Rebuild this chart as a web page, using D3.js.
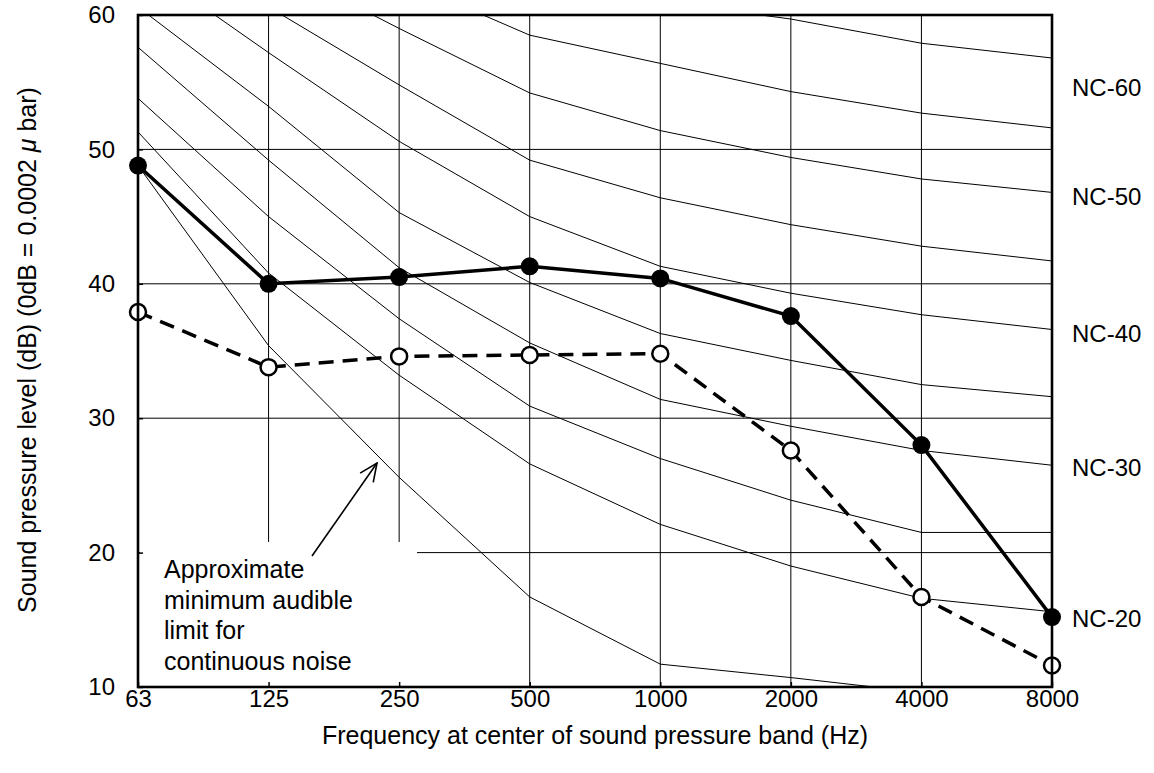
<!DOCTYPE html>
<html>
<head>
<meta charset="utf-8">
<script src="https://cdn.jsdelivr.net/npm/d3@7"></script>
<style>
body { margin: 0; background: #fff; }
svg { font-family: "Liberation Sans", Arial, sans-serif; }
</style>
</head>
<body>
<svg width="1154" height="773"></svg>
<script>
// octave band centre frequencies (Hz)
var bands = ["63", "125", "250", "500", "1000", "2000", "4000", "8000"];
var yTicks = [10, 20, 30, 40, 50, 60];

// measured spectra (dB)
var levelsSolid  = [48.8, 40.0, 40.5, 41.3, 40.4, 37.6, 28.0, 15.2];
var levelsDashed = [37.9, 33.8, 34.6, 34.7, 34.8, 27.6, 16.7, 11.6];

// noise criteria curves
var nc20 = [51.3, 40.8, 33.2, 26.6, 22.1, 19.0, 16.6, 15.6];
var nc25 = [53.8, 45.0, 37.4, 30.9, 27.0, 23.9, 21.5, 21.5];
var nc30 = [57.6, 49.2, 41.2, 35.6, 31.4, 29.4, 27.6, 26.5];
var nc35 = [60.6, 53.2, 45.3, 40.1, 36.3, 34.3, 32.5, 31.6];
var nc40 = [64.0, 57.2, 50.6, 45.0, 41.3, 39.3, 37.7, 36.6];
var nc45 = [67.0, 60.6, 54.8, 49.2, 46.4, 44.4, 42.8, 41.7];
var nc50 = [71.0, 64.0, 59.0, 54.2, 51.4, 49.4, 47.8, 46.8];
var nc55 = [74.0, 67.0, 62.7, 58.5, 56.4, 54.3, 52.7, 51.6];
var nc60 = [77.0, 71.0, 67.0, 63.0, 61.0, 59.7, 57.9, 56.8];

// approximate minimum audible limit (runs out below 10 dB after 4000 Hz)
var audibleLimit = [48.8, 35.4, 25.6, 16.7, 11.7, 10.7, 9.6, null];

// labels on the right side
var ncNames  = ["NC-20", "NC-30", "NC-40", "NC-50", "NC-60"];
var ncLabelLevels = [15.1, 26.3, 36.3, 46.5, 54.6];

var noteLines = ["Approximate", "minimum audible", "limit for", "continuous noise"];

var ncCurves = [nc20, nc25, nc30, nc35, nc40, nc45, nc50, nc55, nc60];

var svg = d3.select("svg");
// plot frame (window.top is taken, so no bare "top")
var plotLeft = 138, plotRight = 1052, plotTop = 15, plotBottom = 687;

var x = d3.scalePoint().domain(bands).range([plotLeft, plotRight]);
var y = d3.scaleLinear().domain([10, 60]).range([plotBottom, plotTop]);

var defs = svg.append("defs");
defs.append("clipPath").attr("id", "plotclip")
  .append("rect")
  .attr("x", plotLeft).attr("y", plotTop)
  .attr("width", plotRight - plotLeft).attr("height", plotBottom - plotTop);

//////////// GRID ////////////
var grid = svg.append("g").attr("stroke", "#000").attr("stroke-width", 1);
grid.selectAll(".vgrid")
  .data(bands.slice(1, -1))
  .enter().append("line")
  .attr("x1", function(d) { return x(d); })
  .attr("x2", function(d) { return x(d); })
  .attr("y1", plotTop).attr("y2", plotBottom);
grid.selectAll(".hgrid")
  .data(yTicks.slice(1, -1))
  .enter().append("line")
  .attr("x1", plotLeft).attr("x2", plotRight)
  .attr("y1", function(d) { return y(d); })
  .attr("y2", function(d) { return y(d); });

// white box behind the note hides the grid there
svg.append("rect")
  .attr("x", plotLeft + 2).attr("y", 542)
  .attr("width", 417 - plotLeft - 2).attr("height", plotBottom - 542 - 1)
  .attr("fill", "#fff");

//////////// CURVES ////////////
var line = d3.line()
  .defined(function(d) { return d != null; })
  .x(function(d, i) { return x(bands[i]); })
  .y(function(d) { return y(d); });

var curves = svg.append("g").attr("clip-path", "url(#plotclip)")
  .attr("fill", "none").attr("stroke", "#000").attr("stroke-width", 1);
curves.selectAll(".nc")
  .data(ncCurves)
  .enter().append("path")
  .attr("class", "nc")
  .attr("d", line);
curves.append("path").attr("d", line(audibleLimit));

// note and arrow
var note = svg.append("text")
  .attr("font-size", 25).attr("fill", "#000");
note.selectAll("tspan")
  .data(noteLines)
  .enter().append("tspan")
  .attr("x", 164)
  .attr("y", function(d, i) { return 578 + i * 30.6; })
  .text(function(d) { return d; });

defs.append("marker")
  .attr("id", "arrowhead")
  .attr("markerUnits", "userSpaceOnUse")
  .attr("viewBox", "0 0 20 20")
  .attr("refX", 19).attr("refY", 10)
  .attr("markerWidth", 20).attr("markerHeight", 20)
  .attr("orient", "auto")
  .append("path")
  .attr("d", "M1,2 L19,10 L1,18")
  .attr("fill", "none").attr("stroke", "#000").attr("stroke-width", 1.6);

svg.append("line")
  .attr("x1", 312).attr("y1", 556)
  .attr("x2", 377).attr("y2", 463)
  .attr("stroke", "#000").attr("stroke-width", 1.6)
  .attr("marker-end", "url(#arrowhead)");

//////////// MEASURED DATA ////////////
svg.append("path")
  .attr("d", line(levelsDashed))
  .attr("fill", "none").attr("stroke", "#000")
  .attr("stroke-width", 3.5).attr("stroke-dasharray", "15,9");
svg.append("path")
  .attr("d", line(levelsSolid))
  .attr("fill", "none").attr("stroke", "#000")
  .attr("stroke-width", 3.5);

svg.selectAll(".dotSolid")
  .data(levelsSolid)
  .enter().append("circle")
  .attr("cx", function(d, i) { return x(bands[i]); })
  .attr("cy", function(d) { return y(d); })
  .attr("r", 9)
  .attr("fill", "#000");
svg.selectAll(".dotDashed")
  .data(levelsDashed)
  .enter().append("circle")
  .attr("cx", function(d, i) { return x(bands[i]); })
  .attr("cy", function(d) { return y(d); })
  .attr("r", 8)
  .attr("fill", "#fff").attr("stroke", "#000").attr("stroke-width", 2.5);

//////////// AXES ////////////
var xAxis = svg.append("g")
  .attr("transform", "translate(0," + plotBottom + ")")
  .call(d3.axisBottom(x).tickSizeInner(-5).tickSizeOuter(0).tickPadding(3));
var yAxis = svg.append("g")
  .attr("transform", "translate(" + plotLeft + ",0)")
  .call(d3.axisLeft(y).tickValues(yTicks).tickSizeInner(-5).tickSizeOuter(0).tickPadding(23));

[xAxis, yAxis].forEach(function(a) {
  a.select(".domain").remove();
  a.attr("font-size", 24).attr("font-family", null);
  a.selectAll("line").attr("stroke", "#000").attr("stroke-width", 1.5);
  a.selectAll("text").attr("fill", "#000");
});

svg.append("rect")
  .attr("x", plotLeft).attr("y", plotTop)
  .attr("width", plotRight - plotLeft).attr("height", plotBottom - plotTop)
  .attr("fill", "none").attr("stroke", "#000").attr("stroke-width", 2.6);

// NC labels on the right
svg.selectAll(".nclabel")
  .data(ncNames)
  .enter().append("text")
  .attr("x", plotRight + 20)
  .attr("y", function(d, i) { return y(ncLabelLevels[i]); })
  .attr("dy", "0.35em")
  .attr("font-size", 24)
  .text(function(d) { return d; });

// axis titles
svg.append("text")
  .attr("x", (plotLeft + plotRight) / 2)
  .attr("y", 744)
  .attr("text-anchor", "middle")
  .attr("font-size", 25)
  .text("Frequency at center of sound pressure band (Hz)");

var yTitle = svg.append("text")
  .attr("transform", "translate(36,350) rotate(-90)")
  .attr("text-anchor", "middle")
  .attr("font-size", 25);
yTitle.append("tspan").text("Sound pressure level (dB) (0dB = 0.0002 ");
yTitle.append("tspan").attr("font-style", "italic").text("\u03bc");
yTitle.append("tspan").text(" bar)");
</script>
</body>
</html>
